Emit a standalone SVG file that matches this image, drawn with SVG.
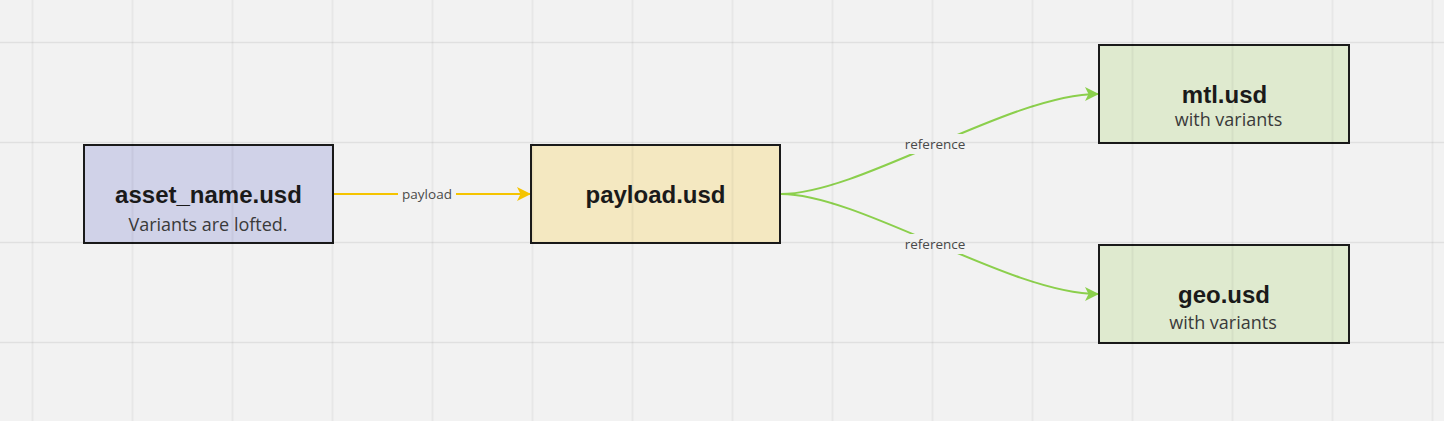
<svg xmlns="http://www.w3.org/2000/svg" width="1444" height="421" viewBox="0 0 1444 421">
  <style>
    .node rect { stroke: #1a1a1a; stroke-width: 2; }
    .title { font-family: "Liberation Sans", Arial, sans-serif; font-weight: bold; font-size: 24px; fill: #1a1a1a; text-anchor: middle; }
    .sub { font-family: "Open Sans", "Noto Sans", sans-serif; font-size: 18px; fill: #3a3a3a; text-anchor: middle; }
    .elabel { font-family: "Open Sans", "Noto Sans", sans-serif; font-size: 13.5px; fill: #4a4a4a; text-anchor: middle; dominant-baseline: central; }
    .gridv { stroke: #000; stroke-opacity: 0.045; stroke-width: 2; }
    .gridh { stroke: #000; stroke-opacity: 0.07; stroke-width: 1.5; }
  </style>
  <defs>
    <marker id="arrY" viewBox="0 0 14 14" refX="13" refY="7" markerWidth="14" markerHeight="14" markerUnits="userSpaceOnUse" orient="auto">
      <path d="M0,0 L14,7 L0,14 L3.5,7 Z" fill="#f5c400"/>
    </marker>
    <marker id="arrG" viewBox="0 0 14 14" refX="13" refY="7" markerWidth="14" markerHeight="14" markerUnits="userSpaceOnUse" orient="auto">
      <path d="M0,0 L14,7 L0,14 L3.5,7 Z" fill="#8bcf4c"/>
    </marker>
  </defs>
  <rect x="0" y="0" width="1444" height="421" fill="#f2f2f2"/>

  <g id="connectors">
    <path d="M334,194 L530,194" stroke="#f5c400" stroke-width="2" fill="none" marker-end="url(#arrY)"/>
    <rect x="398" y="184" width="58" height="20" fill="#f2f2f2"/>
    <text class="elabel" x="427" y="194">payload</text>

    <path d="M781,194 C860,194 1010,94 1098,94" stroke="#8bcf4c" stroke-width="2" fill="none" marker-end="url(#arrG)"/>
    <path d="M781,194 C860,194 1010,294 1098,294" stroke="#8bcf4c" stroke-width="2" fill="none" marker-end="url(#arrG)"/>
    <rect x="899" y="134" width="72" height="20" fill="#f2f2f2"/>
    <text class="elabel" x="935" y="144">reference</text>
    <rect x="899" y="234" width="72" height="20" fill="#f2f2f2"/>
    <text class="elabel" x="935" y="244">reference</text>
  </g>

  <g id="asset" class="node">
    <rect x="84" y="145" width="249" height="98" fill="#d0d2e8"/>
    <text class="title" x="208.5" y="203">asset_name.usd</text>
    <text class="sub" x="208" y="231">Variants are lofted.</text>
  </g>
  <g id="payload" class="node">
    <rect x="531" y="145" width="249" height="98" fill="#f4e8c1"/>
    <text class="title" x="655.5" y="203">payload.usd</text>
  </g>
  <g id="mtl" class="node">
    <rect x="1099" y="45" width="250" height="98" fill="#dfeacf"/>
    <text class="title" x="1224.5" y="103">mtl.usd</text>
    <text class="sub" x="1228.5" y="126">with variants</text>
  </g>
  <g id="geo" class="node">
    <rect x="1099" y="245" width="250" height="98" fill="#dfeacf"/>
    <text class="title" x="1224" y="303">geo.usd</text>
    <text class="sub" x="1223" y="329">with variants</text>
  </g>

  <g id="grid">
    <path class="gridv" d="M32.5,0V421 M132.5,0V421 M232.5,0V421 M332.5,0V421 M432.5,0V421 M532.5,0V421 M632.5,0V421 M732.5,0V421 M832.5,0V421 M932.5,0V421 M1032.5,0V421 M1132.5,0V421 M1232.5,0V421 M1332.5,0V421 M1432.5,0V421"/>
    <path class="gridh" d="M0,42.5H1444 M0,142.5H1444 M0,242.5H1444 M0,342.5H1444"/>
  </g>
</svg>
